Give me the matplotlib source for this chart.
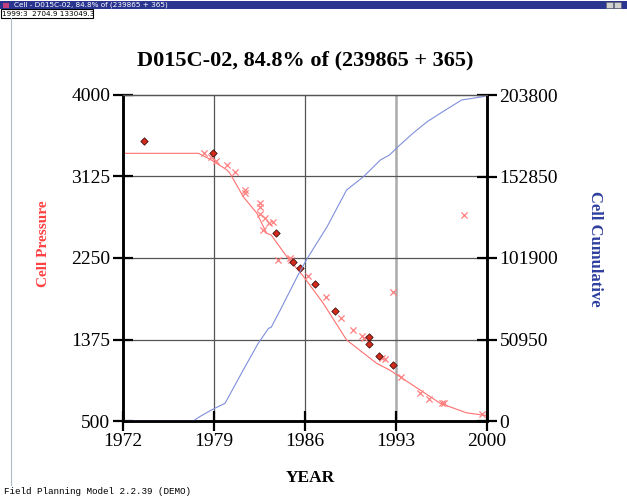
import matplotlib
matplotlib.use("Agg")
import matplotlib.pyplot as plt
from matplotlib.patches import Rectangle
from matplotlib.lines import Line2D

# ---- data ----
# simulated cell pressure
sim_year = [1972.0, 1977.4, 1977.8, 1978.7, 1980.0, 1980.2, 1981.25, 1982.3, 1983.05,
            1983.4, 1984.6, 1985.9, 1987.4, 1989.2, 1991.5, 1992.5, 1993.3, 1994.85,
            1996.4, 1998.4, 2000.0]
sim_pres = [3374, 3374, 3374, 3310, 3195, 3166, 2908, 2730, 2515,
            2497, 2264, 2049, 1764, 1370, 1120, 1048, 976, 833,
            690, 589, 557]

# measured pressures (diamonds)
meas_year = [1973.6, 1978.9, 1983.8, 1985.1, 1985.6, 1986.8, 1988.3, 1990.9, 1990.9,
             1991.7, 1992.8]
meas_pres = [3503, 3374, 2522, 2210, 2140, 1971, 1681, 1399, 1327,
             1195, 1098]

# other pressure readings (crosses)
obs_year = [1978.2, 1978.8, 1979.15, 1980.0, 1980.6, 1981.4, 1981.4, 1982.5, 1982.5,
            1982.5, 1982.9, 1983.25, 1983.5, 1982.75, 1983.9, 1984.85, 1984.9, 1986.2,
            1987.6, 1988.8, 1989.7, 1990.35, 1990.5, 1991.95, 1992.15, 1992.8, 1993.4,
            1994.85, 1995.5, 1996.55, 1996.7, 1999.6, 1998.2]
obs_pres = [3374, 3331, 3295, 3249, 3170, 2980, 2945, 2837, 2794,
            2719, 2683, 2623, 2640, 2551, 2229, 2247, 2229, 2060,
            1828, 1603, 1477, 1416, 1394, 1173, 1166, 1888, 976,
            797, 733, 696, 690, 575, 2712]

# cumulative production
cum_year = [1972.0, 1977.4, 1977.9, 1978.8, 1979.85, 1981.25, 1982.4, 1983.2, 1983.4,
            1984.1, 1985.4, 1986.1, 1987.7, 1989.2, 1990.5, 1991.8, 1992.5, 1993.3,
            1994.3, 1995.4, 1996.6, 1998.05, 1999.7, 2000.0]
cum_vals = [0, 0, 2690, 6880, 11070, 31890, 48580, 57960, 58580,
            69400, 90220, 100660, 121480, 144420, 152740, 163180, 166310, 172560,
            179870, 187120, 193370, 200690, 202750, 203800]

year_ticks = [1972, 1979, 1986, 1993, 2000]
pres_ticks = [500, 1375, 2250, 3125, 4000]
cum_ticks = [0, 50950, 101900, 152850, 203800]

serif = "Liberation Serif"
red = "#ff4040"
blue = "#2e3f9e"

fig = plt.figure(figsize=(6.27, 5.0), dpi=100)
W, H = 627.0, 500.0

def fx(px):
    return px / W

def fy(py):
    return 1 - py / H

# window chrome
fig.add_artist(Rectangle((0, fy(9)), 1, 8 / H, transform=fig.transFigure,
                         facecolor="#2a3590", edgecolor="none"))
fig.text(fx(14), fy(5), "Cell - D015C-02, 84.8% of (239865 + 365)", color="white",
         fontsize=5.2, va="center", family="DejaVu Sans")
fig.add_artist(Rectangle((fx(3), fy(8)), 6 / W, 5 / H, transform=fig.transFigure,
                         facecolor="#c04080", edgecolor="none"))
fig.add_artist(Rectangle((fx(0.5), fy(18)), 92 / W, 8.5 / H, transform=fig.transFigure,
                         facecolor="white", edgecolor="black", linewidth=0.8))
fig.text(fx(2), fy(13.5), "1999:3  2704.9 133049.3", fontsize=5.2, va="center",
         family="DejaVu Sans")
for bx in [606, 614]:
    fig.add_artist(Rectangle((fx(bx), fy(8)), 7 / W, 6 / H, transform=fig.transFigure,
                             facecolor="#d0d0d0", edgecolor="#606060", linewidth=0.4))
fig.add_artist(Line2D([fx(11), fx(11)], [fy(18), fy(485)], transform=fig.transFigure,
                      color="#b0b8c8", linewidth=0.8))

ax = fig.add_axes([fx(123), fy(421), 364 / W, 326 / H])
ax2 = ax.twinx()

# grid
for yr in [1979, 1986]:
    ax.axvline(yr, color="#555555", linewidth=0.9, zorder=0)
ax.axvline(1993, color="#aaaaaa", linewidth=1.8, zorder=0)
for p in [1375, 2250, 3125]:
    ax.axhline(p, color="#555555", linewidth=0.9, zorder=0)

ax.plot(sim_year, sim_pres, color="#ff7070", linewidth=0.8, zorder=2)
ax.scatter(obs_year, obs_pres, marker="x", s=20, color="#ff8080", linewidths=0.9, zorder=3)
ax.scatter(meas_year, meas_pres, marker="D", s=14, facecolor="#d42a1a",
           edgecolor="#401010", linewidths=0.6, zorder=4)
ax2.plot(cum_year, cum_vals, color="#7f8fdc", linewidth=0.8, zorder=2)

ax.set_xlim(1972, 2000)
ax.set_ylim(500, 4000)
ax2.set_ylim(0, 203800)
ax.set_xticks(year_ticks)
ax.set_yticks(pres_ticks)
ax2.set_yticks(cum_ticks)
ax.set_xticklabels([str(y) for y in year_ticks], family=serif, fontsize=14)
ax.set_yticklabels([str(p) for p in pres_ticks], family=serif, fontsize=14)
ax2.set_yticklabels([str(c) for c in cum_ticks], family=serif, fontsize=14)

ax.tick_params(axis="both", direction="inout", length=14, width=1.6, pad=2)
ax2.tick_params(axis="y", direction="inout", length=14, width=1.6, pad=2)

for a in [ax, ax2]:
    a.spines["left"].set_linewidth(1.8)
    a.spines["bottom"].set_linewidth(1.8)
    a.spines["right"].set_linewidth(1.8)
    a.spines["top"].set_linewidth(0.9)
    a.spines["top"].set_color("#555555")

# labels
fig.text(fx(305), fy(60), "D015C-02, 84.8% of (239865 + 365)", family=serif,
         fontweight="bold", fontsize=16, ha="center", va="center")
fig.text(fx(43), fy(244), "Cell Pressure", family=serif, fontweight="bold",
         fontsize=11, color=red, rotation=90, ha="center", va="center")
fig.text(fx(595), fy(249), "Cell Cumulative", family=serif, fontweight="bold",
         fontsize=12, color=blue, rotation=270, ha="center", va="center")
fig.text(fx(310), fy(478), "YEAR", family=serif, fontweight="bold",
         fontsize=12.5, ha="center", va="center")
fig.text(fx(4), fy(492), "Field Planning Model 2.2.39 (DEMO)", family="Liberation Mono",
         fontsize=6.7, ha="left", va="center")

fig.savefig("out.png", dpi=100)
